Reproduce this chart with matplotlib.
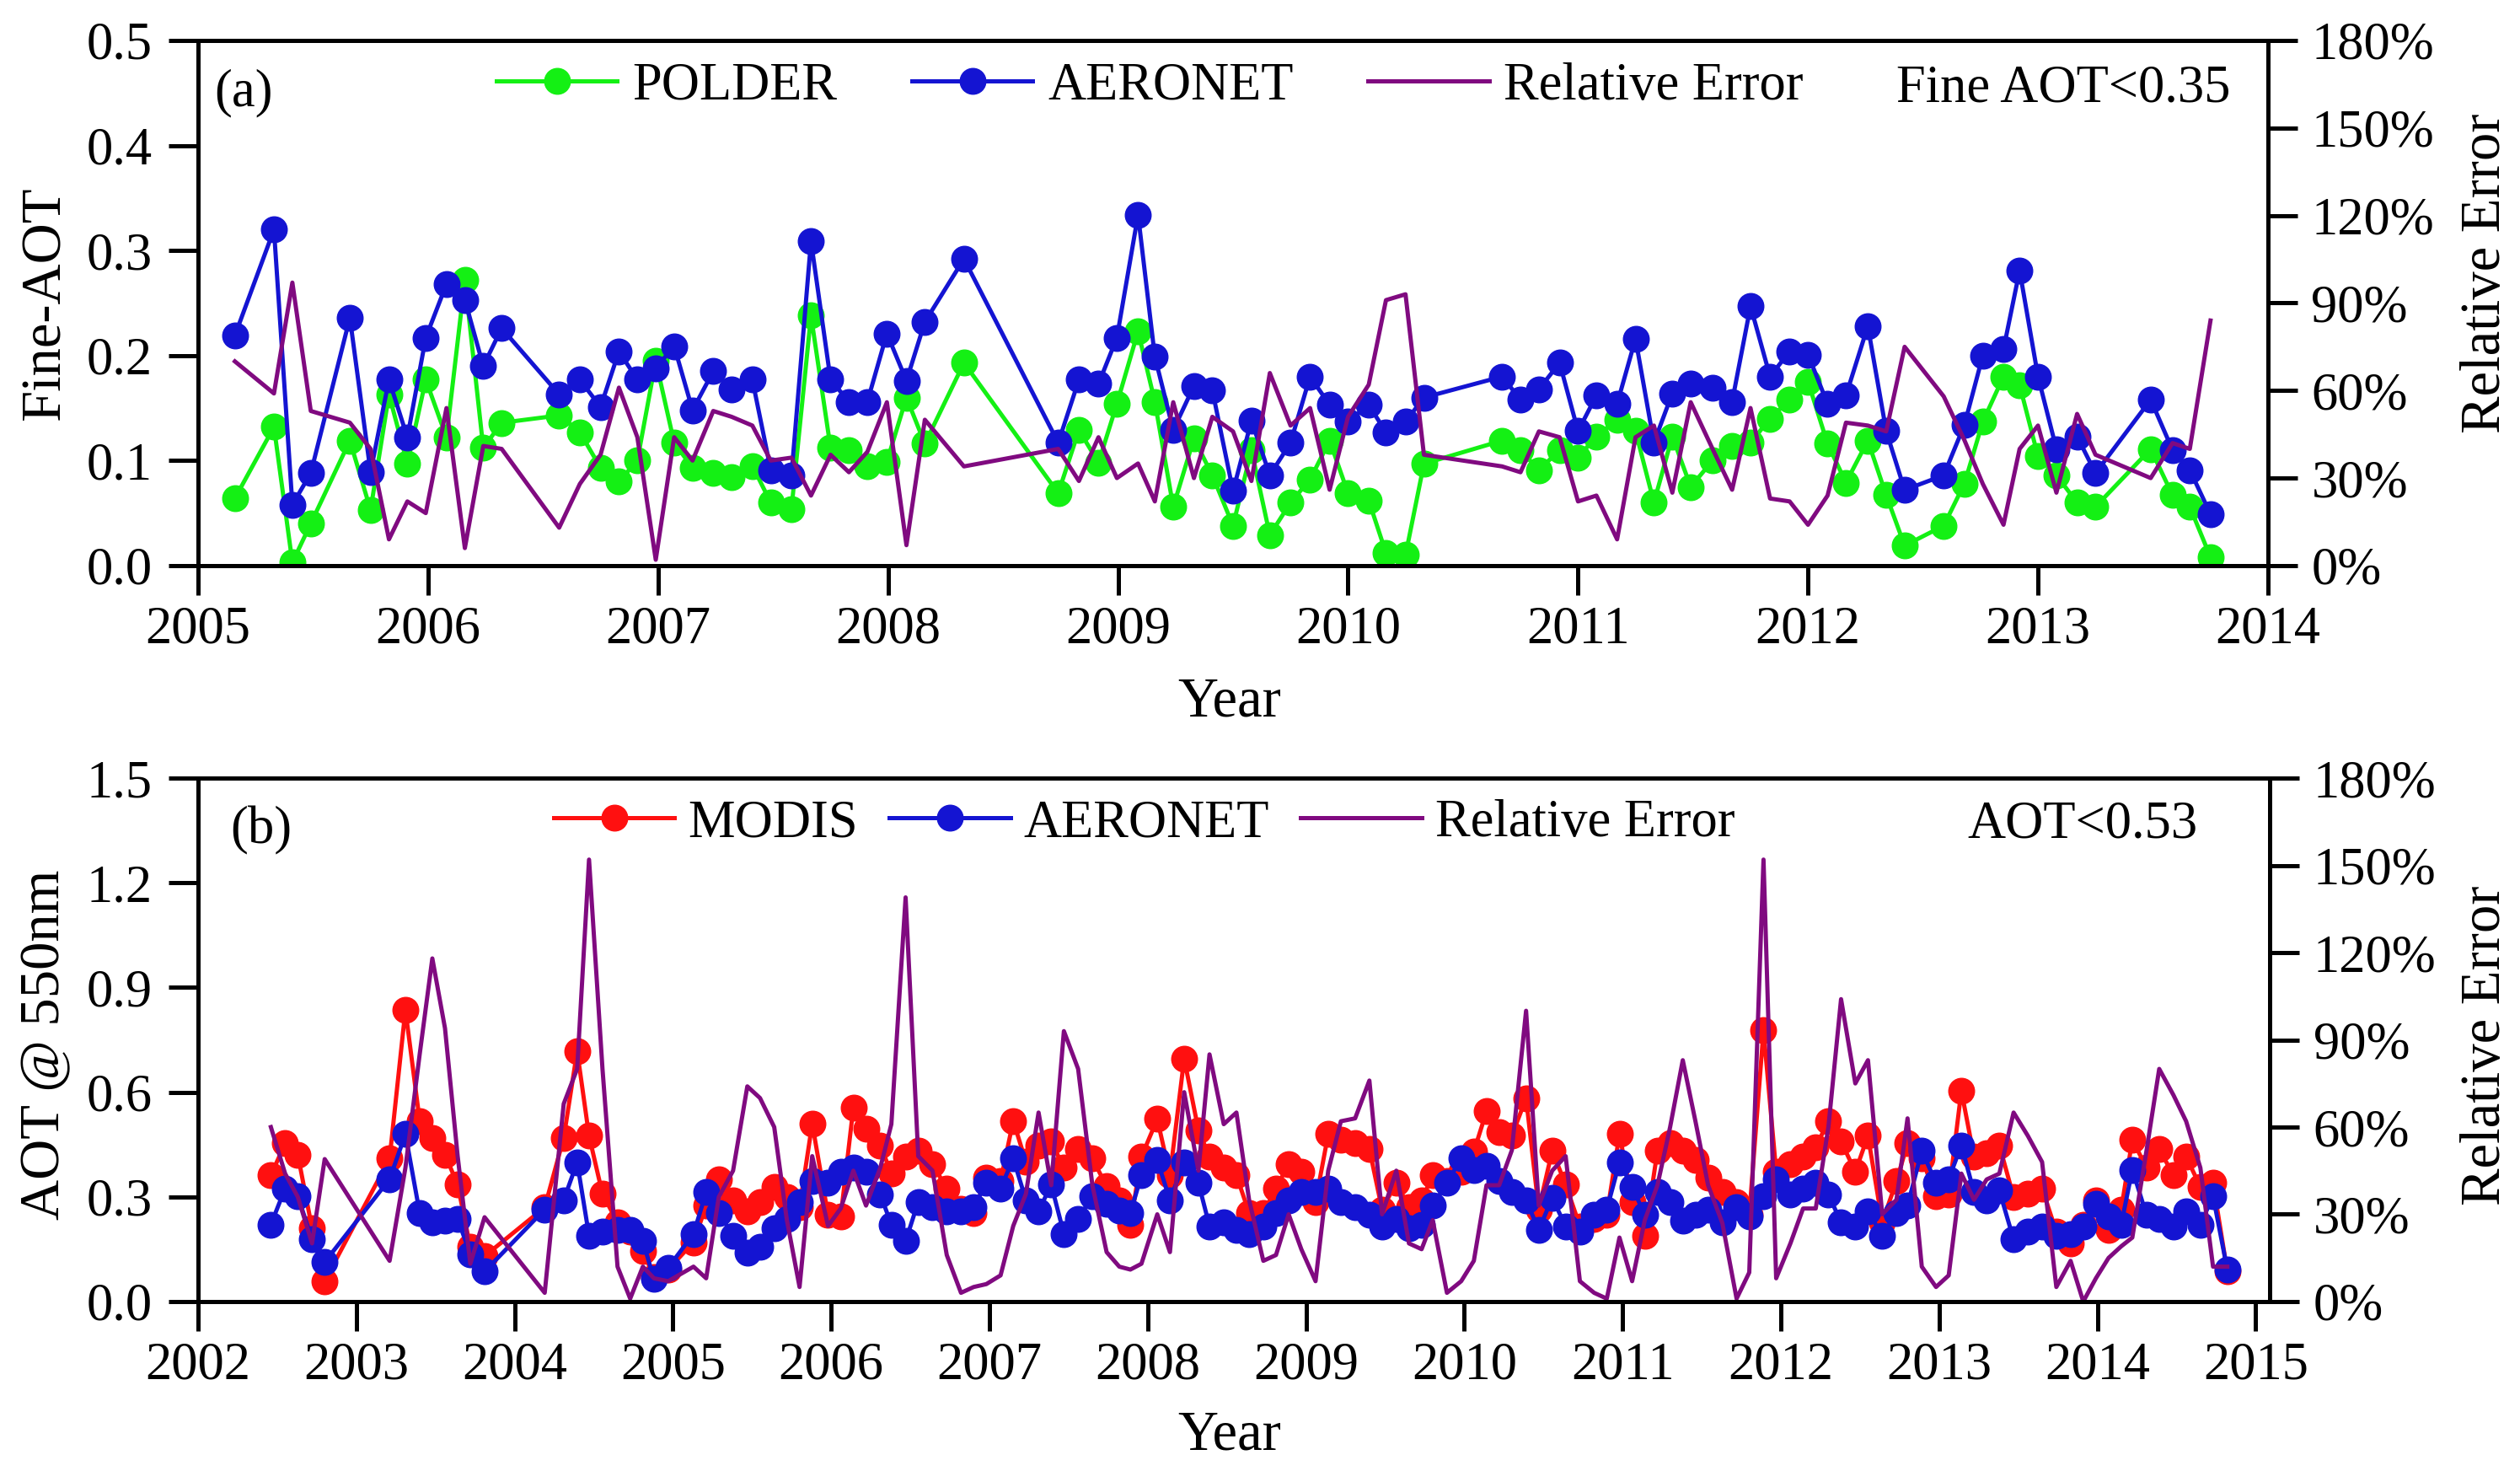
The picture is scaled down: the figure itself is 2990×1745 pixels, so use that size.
import matplotlib
matplotlib.use('Agg')
import matplotlib.pyplot as plt
from matplotlib.ticker import FixedLocator, FuncFormatter

plt.rcParams['font.family'] = ['Liberation Serif', 'DejaVu Serif']

# ---------------- Panel (a) data ----------------
a_year = [2005.16, 2005.33, 2005.41, 2005.49, 2005.66, 2005.75, 2005.83, 2005.91, 2005.99, 2006.08,
          2006.16, 2006.24, 2006.32, 2006.57, 2006.66, 2006.75, 2006.83, 2006.91, 2006.99, 2007.07,
          2007.15, 2007.24, 2007.32, 2007.41, 2007.49, 2007.58, 2007.665, 2007.75, 2007.83, 2007.91,
          2007.995, 2008.08, 2008.16, 2008.33, 2008.74, 2008.83, 2008.915, 2008.995, 2009.087, 2009.16,
          2009.24, 2009.33, 2009.41, 2009.50, 2009.58, 2009.66, 2009.75, 2009.835, 2009.92, 2010.00,
          2010.09, 2010.165, 2010.25, 2010.33, 2010.67, 2010.75, 2010.83, 2010.92, 2011.00, 2011.08,
          2011.17, 2011.25, 2011.33, 2011.41, 2011.49, 2011.585, 2011.67, 2011.75, 2011.835, 2011.92,
          2012.00, 2012.085, 2012.165, 2012.26, 2012.34, 2012.42, 2012.59, 2012.68, 2012.76, 2012.85,
          2012.92, 2013.00, 2013.08, 2013.17, 2013.25, 2013.49, 2013.585, 2013.66, 2013.75]
a_aeronet = [0.219, 0.320, 0.058, 0.088, 0.236, 0.089, 0.177, 0.122, 0.217, 0.268,
             0.253, 0.190, 0.226, 0.163, 0.177, 0.151, 0.204, 0.177, 0.188, 0.209,
             0.148, 0.185, 0.168, 0.177, 0.091, 0.086, 0.309, 0.177, 0.156, 0.156,
             0.221, 0.176, 0.232, 0.292, 0.117, 0.177, 0.173, 0.217, 0.334, 0.199,
             0.129, 0.171, 0.167, 0.071, 0.138, 0.086, 0.117, 0.180, 0.153, 0.137,
             0.153, 0.127, 0.137, 0.160, 0.180, 0.158, 0.168, 0.193, 0.128, 0.162,
             0.154, 0.216, 0.117, 0.164, 0.173, 0.169, 0.156, 0.247, 0.180, 0.204,
             0.201, 0.154, 0.162, 0.228, 0.128, 0.072, 0.086, 0.134, 0.200, 0.206,
             0.281, 0.180, 0.111, 0.123, 0.088, 0.158, 0.110, 0.091, 0.049]
a_polder = [0.064, 0.132, 0.003, 0.040, 0.119, 0.053, 0.163, 0.097, 0.177, 0.122,
            0.272, 0.112, 0.136, 0.143, 0.127, 0.093, 0.080, 0.100, 0.195, 0.117,
            0.093, 0.088, 0.084, 0.095, 0.060, 0.054, 0.238, 0.112, 0.110, 0.095,
            0.099, 0.160, 0.116, 0.193, 0.069, 0.129, 0.098, 0.154, 0.223, 0.156,
            0.056, 0.121, 0.086, 0.038, 0.110, 0.029, 0.060, 0.082, 0.119, 0.069,
            0.062, 0.012, 0.010, 0.097, 0.119, 0.110, 0.091, 0.110, 0.103, 0.123,
            0.139, 0.128, 0.060, 0.123, 0.075, 0.100, 0.114, 0.117, 0.140, 0.158,
            0.175, 0.116, 0.079, 0.119, 0.067, 0.019, 0.038, 0.078, 0.137, 0.180,
            0.172, 0.104, 0.086, 0.060, 0.056, 0.111, 0.067, 0.056, 0.008]
a_relerr = [70, 59, 97, 53, 49, 40, 9, 22, 18, 54,
            6, 41, 40, 13, 28, 38, 61, 44, 2, 44,
            36, 53, 51, 48, 36, 37, 24, 38, 32, 39,
            56, 7, 50, 34, 40, 29, 44, 30, 35, 22,
            56, 30, 51, 46, 29, 66, 48, 54, 26, 51,
            62, 91, 93, 38, 34, 32, 46, 44, 22, 24,
            9, 44, 48, 25, 56, 40, 26, 54, 23, 22,
            14, 24, 49, 48, 46, 75, 58, 43, 28, 14,
            40, 48, 25, 52, 38, 30, 42, 40, 84]

# ---------------- Panel (b) data ----------------
b_year = [2002.46, 2002.55, 2002.63, 2002.72, 2002.80, 2003.21, 2003.31, 2003.40, 2003.48, 2003.56,
          2003.64, 2003.72, 2003.81, 2004.19, 2004.31, 2004.395, 2004.47, 2004.555, 2004.65, 2004.73,
          2004.81, 2004.88, 2004.97, 2005.13, 2005.21, 2005.29, 2005.38, 2005.47, 2005.55, 2005.64,
          2005.72, 2005.80, 2005.88, 2005.98, 2006.06, 2006.14, 2006.22, 2006.31, 2006.38, 2006.47,
          2006.55, 2006.64, 2006.73, 2006.82, 2006.90, 2006.98, 2007.07, 2007.15, 2007.23, 2007.31,
          2007.39, 2007.47, 2007.56, 2007.65, 2007.74, 2007.82, 2007.89, 2007.96, 2008.06, 2008.14,
          2008.23, 2008.32, 2008.39, 2008.48, 2008.56, 2008.64, 2008.73, 2008.81, 2008.89, 2008.97,
          2009.06, 2009.14, 2009.22, 2009.31, 2009.40, 2009.48, 2009.57, 2009.65, 2009.73, 2009.80,
          2009.89, 2009.98, 2010.06, 2010.14, 2010.22, 2010.30, 2010.39, 2010.47, 2010.555, 2010.64,
          2010.73, 2010.82, 2010.90, 2010.98, 2011.06, 2011.14, 2011.22, 2011.30, 2011.38, 2011.46,
          2011.54, 2011.63, 2011.72, 2011.80, 2011.89, 2011.97, 2012.06, 2012.14, 2012.22, 2012.30,
          2012.38, 2012.47, 2012.55, 2012.64, 2012.73, 2012.80, 2012.89, 2012.98, 2013.06, 2013.14,
          2013.22, 2013.30, 2013.38, 2013.47, 2013.56, 2013.65, 2013.74, 2013.83, 2013.91, 2013.99,
          2014.07, 2014.15, 2014.22, 2014.31, 2014.39, 2014.48, 2014.56, 2014.65, 2014.73, 2014.82]
b_modis = [0.362, 0.453, 0.421, 0.210, 0.059, 0.410, 0.836, 0.518, 0.469, 0.421,
           0.335, 0.156, 0.130, 0.270, 0.469, 0.718, 0.475, 0.308, 0.227, 0.200,
           0.146, 0.070, 0.092, 0.170, 0.275, 0.351, 0.291, 0.259, 0.286, 0.329,
           0.300, 0.270, 0.510, 0.248, 0.243, 0.556, 0.496, 0.448, 0.367, 0.415,
           0.432, 0.394, 0.324, 0.265, 0.254, 0.356, 0.345, 0.518, 0.400, 0.448,
           0.459, 0.383, 0.437, 0.410, 0.330, 0.290, 0.221, 0.415, 0.523, 0.362,
           0.696, 0.491, 0.415, 0.383, 0.362, 0.254, 0.254, 0.324, 0.394, 0.372,
           0.286, 0.480, 0.464, 0.453, 0.437, 0.264, 0.340, 0.270, 0.291, 0.362,
           0.345, 0.372, 0.430, 0.545, 0.486, 0.475, 0.583, 0.264, 0.432, 0.335,
           0.216, 0.237, 0.248, 0.480, 0.286, 0.189, 0.432, 0.453, 0.432, 0.405,
           0.356, 0.313, 0.286, 0.248, 0.777, 0.372, 0.394, 0.415, 0.442, 0.518,
           0.459, 0.372, 0.475, 0.227, 0.345, 0.453, 0.410, 0.302, 0.307, 0.604,
           0.415, 0.426, 0.448, 0.300, 0.310, 0.324, 0.200, 0.167, 0.220, 0.291,
           0.205, 0.264, 0.464, 0.383, 0.437, 0.362, 0.415, 0.329, 0.340, 0.086]
b_aeronet = [0.221, 0.324, 0.302, 0.178, 0.113, 0.351, 0.480, 0.254, 0.227, 0.232,
             0.237, 0.135, 0.086, 0.264, 0.291, 0.399, 0.189, 0.200, 0.205, 0.205,
             0.173, 0.065, 0.097, 0.194, 0.313, 0.254, 0.189, 0.140, 0.156, 0.210,
             0.237, 0.286, 0.345, 0.340, 0.372, 0.383, 0.372, 0.307, 0.221, 0.173,
             0.286, 0.270, 0.259, 0.259, 0.270, 0.340, 0.324, 0.410, 0.291, 0.259,
             0.335, 0.194, 0.237, 0.302, 0.281, 0.260, 0.254, 0.362, 0.405, 0.291,
             0.399, 0.340, 0.216, 0.227, 0.205, 0.194, 0.216, 0.254, 0.291, 0.313,
             0.313, 0.324, 0.286, 0.270, 0.248, 0.216, 0.237, 0.210, 0.221, 0.275,
             0.340, 0.410, 0.378, 0.389, 0.345, 0.313, 0.291, 0.205, 0.297, 0.216,
             0.200, 0.248, 0.264, 0.399, 0.329, 0.248, 0.313, 0.286, 0.232, 0.248,
             0.264, 0.227, 0.270, 0.243, 0.302, 0.351, 0.307, 0.324, 0.340, 0.307,
             0.227, 0.216, 0.259, 0.189, 0.254, 0.275, 0.432, 0.340, 0.351, 0.448,
             0.313, 0.291, 0.318, 0.178, 0.200, 0.216, 0.189, 0.194, 0.216, 0.281,
             0.243, 0.221, 0.378, 0.248, 0.237, 0.216, 0.259, 0.221, 0.302, 0.092]
b_relerr = [60, 44, 36, 20, 49, 14, 46, 85, 118, 94,
            50, 13, 29, 3, 68, 80, 152, 80, 12, 1,
            12, 8, 7, 12, 8, 36, 45, 74, 70, 60,
            28, 5, 50, 26, 32, 45, 33, 46, 61, 139,
            50, 45, 16, 3, 5, 6, 9, 26, 37, 65,
            40, 93, 80, 40, 17, 12, 11, 13, 30, 17,
            72, 45, 85, 61, 65, 35, 14, 16, 30, 18,
            7, 45, 62, 63, 76, 30, 45, 20, 18, 28,
            3, 7, 14, 40, 40, 52, 100, 33, 45, 50,
            7, 3, 1, 22, 7, 28, 40, 60, 83, 62,
            40, 27, 1, 10, 152, 8, 20, 32, 32, 60,
            104, 75, 83, 30, 35, 63, 12, 5, 9, 44,
            35, 42, 44, 65, 57, 48, 5, 14, 0, 8,
            15, 19, 22, 52, 80, 71, 62, 46, 12, 12]

a_years_ticks = list(range(2005, 2015))
b_years_ticks = list(range(2002, 2016))
a_yticks = [0.0, 0.1, 0.2, 0.3, 0.4, 0.5]
b_yticks = [0.0, 0.3, 0.6, 0.9, 1.2, 1.5]
re_ticks = [0, 30, 60, 90, 120, 150, 180]

# ---------------- styling ----------------
GREEN = '#14f014'
BLUE = '#1414d2'
RED = '#ff1010'
PURPLE = '#800a80'
LW = 3.6
MS = 22
TFS = 45
LFS = 48

fig = plt.figure(figsize=(29.9, 17.45), dpi=100)


def style_axes(ax, ax2, xticks, yticks, xlim, ylim):
    ax.set_xlim(*xlim)
    ax.set_ylim(*ylim)
    ax2.set_ylim(0, 180)
    ax.xaxis.set_major_locator(FixedLocator(xticks))
    ax.yaxis.set_major_locator(FixedLocator(yticks))
    ax.yaxis.set_major_formatter(FuncFormatter(lambda v, p: f"{v:.1f}"))
    ax.xaxis.set_major_formatter(FuncFormatter(lambda v, p: f"{int(round(v))}"))
    ax2.yaxis.set_major_locator(FixedLocator(re_ticks))
    ax2.yaxis.set_major_formatter(FuncFormatter(lambda v, p: f"{int(v)}%"))
    for a in (ax, ax2):
        for s in a.spines.values():
            s.set_linewidth(3.6)
    ax.tick_params(axis='both', which='major', direction='out', length=25, width=3.6,
                   labelsize=TFS, top=False, right=False)
    ax.tick_params(axis='x', pad=9)
    ax.tick_params(axis='y', pad=14)
    ax2.tick_params(axis='y', which='major', direction='out', length=25, width=3.6,
                    labelsize=TFS, pad=12)
    ax.minorticks_off()
    ax2.minorticks_off()


# ---------------- Panel (a) ----------------
ax1 = fig.add_axes([0.0786, 0.6155, 0.8214, 0.357])
ax1r = ax1.twinx()
l1, = ax1.plot(a_year, a_polder, '-o', color=GREEN, lw=LW, ms=MS, mec=GREEN, label='POLDER')
l2, = ax1.plot(a_year, a_aeronet, '-o', color=BLUE, lw=LW, ms=MS, mec=BLUE, label='AERONET')
l3, = ax1r.plot(a_year, a_relerr, '-', color=PURPLE, lw=LW, label='Relative Error')
style_axes(ax1, ax1r, a_years_ticks, a_yticks, (2005, 2014), (0, 0.5))
ax1r.legend([l1, l2, l3], ['POLDER', 'AERONET', 'Relative Error'], loc='center left',
            bbox_to_anchor=(0.144, 0.912), ncol=3, frameon=False, fontsize=TFS,
            handlelength=2.3, handletextpad=0.28, columnspacing=1.42,
            borderpad=0, borderaxespad=0)
ax1.text(0.008, 0.90, '(a)', transform=ax1.transAxes, fontsize=TFS, ha='left', va='center')
ax1.text(0.982, 0.908, 'Fine AOT<0.35', transform=ax1.transAxes, fontsize=TFS,
         ha='right', va='center')

# ---------------- Panel (b) ----------------
ax2 = fig.add_axes([0.0786, 0.1152, 0.8222, 0.3558])
ax2r = ax2.twinx()
m1, = ax2.plot(b_year, b_modis, '-o', color=RED, lw=LW, ms=MS, mec=RED, label='MODIS')
m2, = ax2.plot(b_year, b_aeronet, '-o', color=BLUE, lw=LW, ms=MS, mec=BLUE, label='AERONET')
m3, = ax2r.plot(b_year, b_relerr, '-', color=PURPLE, lw=LW, label='Relative Error')
style_axes(ax2, ax2r, b_years_ticks, b_yticks, (2002, 2015.09), (0, 1.5))
ax2r.legend([m1, m2, m3], ['MODIS', 'AERONET', 'Relative Error'], loc='center left',
            bbox_to_anchor=(0.1715, 0.913), ncol=3, frameon=False, fontsize=TFS,
            handlelength=2.3, handletextpad=0.25, columnspacing=0.6,
            borderpad=0, borderaxespad=0)
ax2.text(0.0155, 0.90, '(b)', transform=ax2.transAxes, fontsize=TFS, ha='left', va='center')
ax2.text(0.965, 0.91, 'AOT<0.53', transform=ax2.transAxes, fontsize=TFS,
         ha='right', va='center')

# ---------------- axis labels ----------------
fig.text(0.018, 0.7937, 'Fine-AOT', rotation=90, fontsize=LFS, ha='center', va='center')
fig.text(0.9866, 0.814, 'Relative Error', rotation=90, fontsize=LFS, ha='center', va='center')
fig.text(0.488, 0.5226, 'Year', fontsize=LFS, ha='center', va='center')
fig.text(0.018, 0.29, 'AOT @ 550nm', rotation=90, fontsize=LFS, ha='center', va='center')
fig.text(0.9866, 0.289, 'Relative Error', rotation=90, fontsize=LFS, ha='center', va='center')
fig.text(0.488, 0.024, 'Year', fontsize=LFS, ha='center', va='center')

fig.savefig('out.png', dpi=100)
